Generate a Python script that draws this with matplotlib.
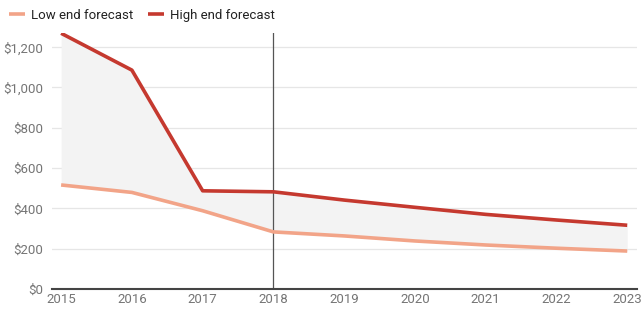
import matplotlib.pyplot as plt
from matplotlib.ticker import FuncFormatter

years = [2015, 2016, 2017, 2018, 2019, 2020, 2021, 2022, 2023]
low_end = [516, 479, 388, 283, 263, 238, 218, 202, 188]
high_end = [1269, 1086, 487, 482, 441, 405, 370, 342, 316]
y_ticks = [0, 200, 400, 600, 800, 1000, 1200]

plt.rcParams["font.family"] = ["Roboto", "DejaVu Sans"]

fig = plt.figure(figsize=(6.41, 3.09), dpi=100)
ax = fig.add_axes([0.081, 0.065, 0.913, 0.828])

# shaded band between the two forecasts
ax.fill_between(years, low_end, high_end, color="#f3f3f3", lw=0, zorder=1)
ax.plot(years, low_end, color="#f2a488", lw=2.6, label="Low end forecast",
        zorder=3, solid_capstyle="butt")
ax.plot(years, high_end, color="#c5392f", lw=2.6, label="High end forecast",
        zorder=4, solid_capstyle="butt")
ax.axvline(2018, color="#555555", lw=0.9, zorder=2)

ax.set_xlim(2014.87, 2023.14)
ax.set_ylim(0, 1270)
ax.set_xticks(years)
ax.set_yticks(y_ticks)
ax.yaxis.set_major_formatter(FuncFormatter(lambda v, _: f"${int(v):,}"))

ax.grid(axis="y", color="#e6e6e6", lw=0.9, zorder=0)
ax.set_axisbelow(True)
for side in ["top", "right", "left"]:
    ax.spines[side].set_visible(False)
ax.spines["bottom"].set_color("#444444")
ax.spines["bottom"].set_linewidth(1.5)
ax.tick_params(axis="both", length=0, labelsize=9.5, colors="#757575")
ax.tick_params(axis="x", pad=3)
ax.tick_params(axis="y", pad=6)

fig.legend(loc="upper left", bbox_to_anchor=(-0.005, 1.01), ncol=2, frameon=False,
           fontsize=9.5, handlelength=1.2, handletextpad=0.5, columnspacing=1.1,
           labelcolor="#222222")

fig.savefig("out.png", dpi=100)
